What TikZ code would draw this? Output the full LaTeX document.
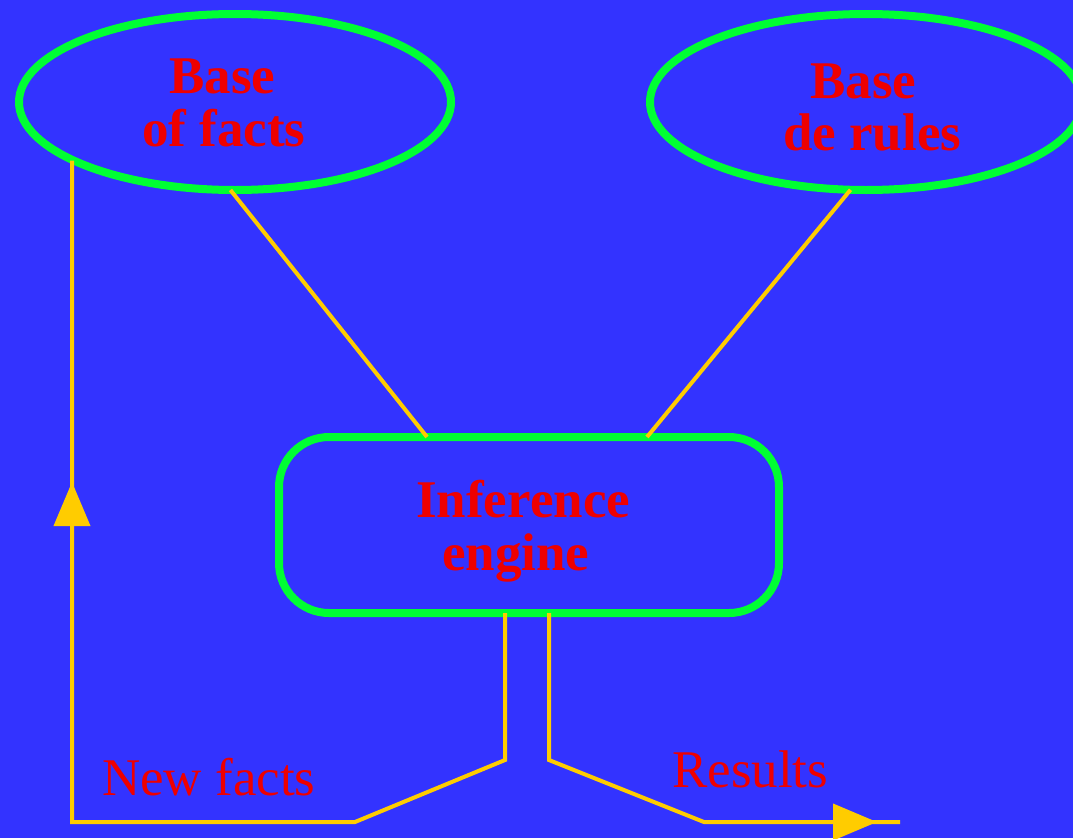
\documentclass[tikz,border=0pt]{standalone}
\usepackage{fontspec}
\setmainfont{Liberation Serif}
\usetikzlibrary{shapes.geometric,arrows.meta}
\definecolor{bg}{RGB}{51,51,255}
\definecolor{grn}{RGB}{0,255,51}
\definecolor{txt}{RGB}{238,0,0}
\definecolor{ylw}{RGB}{255,204,0}
\begin{document}
\begin{tikzpicture}[x=1pt,y=-1pt,
  shapeline/.style={draw=grn,line width=8pt,inner sep=0pt,outer sep=0pt},
  oval/.style={shapeline,ellipse,minimum width=432pt,minimum height=176pt},
  engbox/.style={shapeline,rectangle,rounded corners=50pt,minimum width=500pt,minimum height=176pt},
  conn/.style={draw=ylw,line width=4pt},
  arr/.style={ylw,line width=4pt,-{Triangle[length=44pt,width=36pt]}},
  boldtxt/.style={text=txt,font=\fontsize{53}{53}\selectfont\bfseries,anchor=base west,inner sep=0pt},
  plaintxt/.style={text=txt,font=\fontsize{53}{53}\selectfont,anchor=base west,inner sep=0pt}]
\fill[bg] (0,0) rectangle (1073,838);
\useasboundingbox (0,0) rectangle (1073,838);
\clip (0,0) rectangle (1073,838);

% shapes
\node[oval] (facts) at (235,102) {};
\node[oval] (rules) at (866,102) {};
\node[engbox] (engine) at (529,525) {};

% texts
\node[boldtxt] (t1) at (169,93) {Base};
\node[boldtxt] (t2) at (142,146) {of facts};
\node[boldtxt] (t3) at (810,98) {Base};
\node[boldtxt] (t4) at (783,150) {de rules};
\node[boldtxt] (t5) at (416,517) {Inference};
\node[boldtxt] (t6) at (442,570) {engine};
\node[plaintxt] (t7) at (102,795) {New facts};
\node[plaintxt] (t8) at (672,787) {Results};

% bend points
\coordinate (nf1) at (505,760);
\coordinate (nf2) at (355,822);
\coordinate (nf3) at (72,822);
\coordinate (nfa) at (72,530);
\coordinate (nfb) at (72,482);
\coordinate (rs1) at (549,760);
\coordinate (rs2) at (704,822);
\coordinate (rsa) at (828,822);
\coordinate (rsb) at (877,822);
\coordinate (rsend) at (900,822);

% connectors
\draw[conn] (facts.-93) -- ([xshift=-102pt]engine.north);
\draw[conn] (rules.-100) -- ([xshift=118pt]engine.north);
\draw[conn] ([xshift=-24pt]engine.south) -- (nf1) -- (nf2) -- (nf3) -- (nf3 |- facts.200);
\draw[arr] (nfa) -- (nfb);
\draw[conn] ([xshift=20pt]engine.south) -- (rs1) -- (rs2) -- (rsend);
\draw[arr] (rsa) -- (rsb);
\end{tikzpicture}
\end{document}
